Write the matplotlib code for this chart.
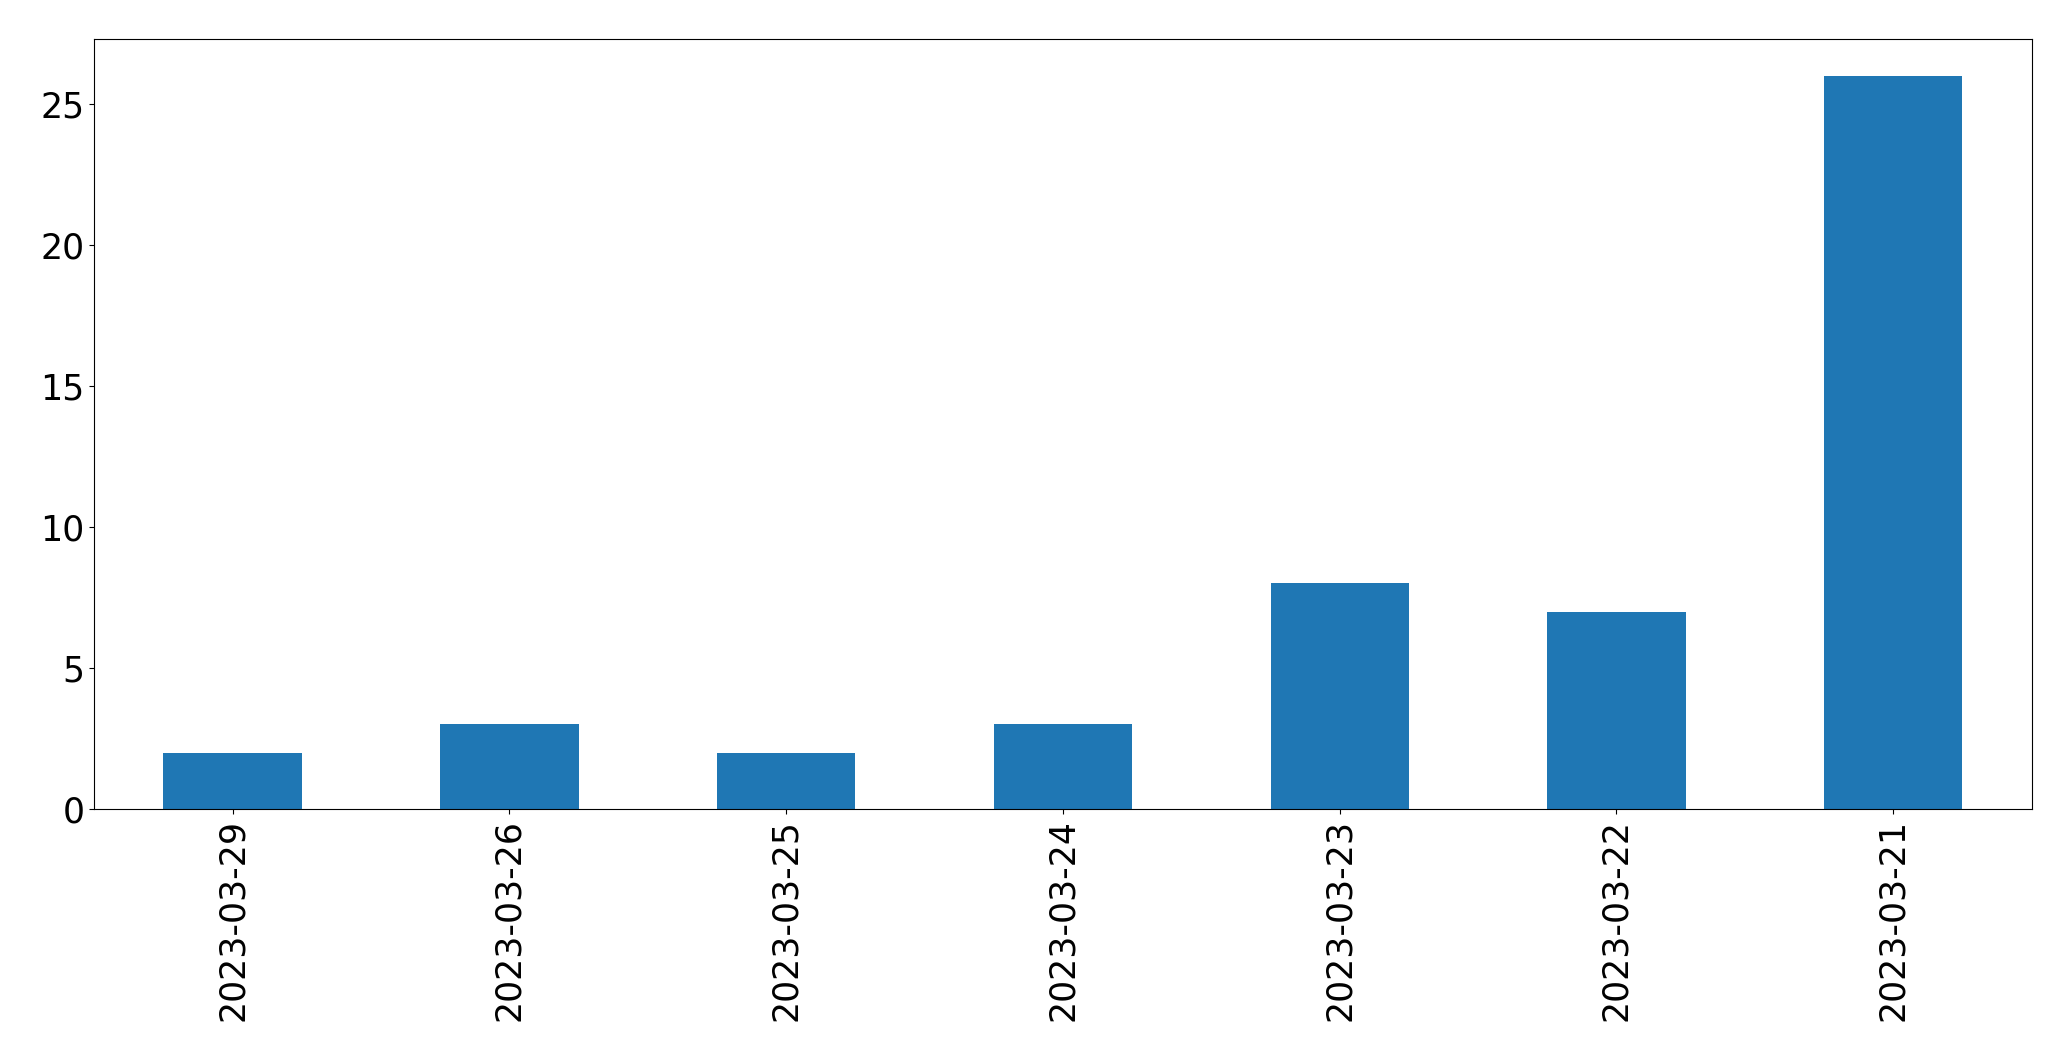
import matplotlib
matplotlib.use("Agg")
import matplotlib.pyplot as plt
import pandas as pd

dates = ["2023-03-29", "2023-03-26", "2023-03-25", "2023-03-24",
         "2023-03-23", "2023-03-22", "2023-03-21"]
counts = [2, 3, 2, 3, 8, 7, 26]

s = pd.Series(counts, index=dates)

fig = plt.figure(figsize=(20.71, 10.61), dpi=100)
ax = fig.add_subplot(111)
s.plot(kind="bar", ax=ax, fontsize=25, color="#1f77b4")
fig.subplots_adjust(left=0.0455, right=0.981, top=0.963, bottom=0.2375)

fig.savefig("out.png", dpi=100)
